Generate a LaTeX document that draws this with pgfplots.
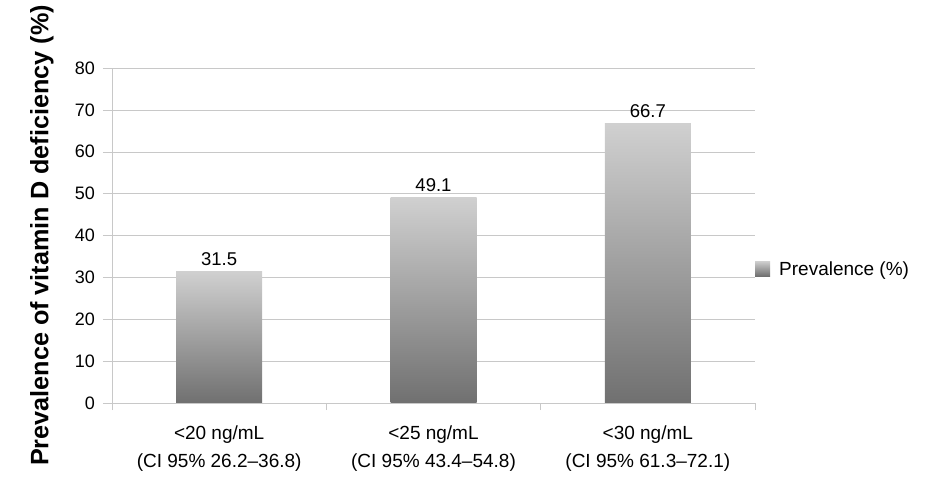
\documentclass[border=0pt]{standalone}
\usepackage{fontspec}
\setmainfont{Liberation Sans}
\usepackage{pgfplots}
\pgfplotsset{compat=1.18}

\definecolor{bartop}{RGB}{208,208,208}
\definecolor{barbot}{RGB}{112,112,112}
\definecolor{gridc}{RGB}{200,200,200}

\begin{document}
\begin{tikzpicture}
\begin{axis}[
  at={(0,0)}, anchor=south west,
  scale only axis,
  width=643bp, height=335bp,
  xmin=-0.5, xmax=2.5,
  ymin=0, ymax=80,
  ytick={0,10,...,80},
  xtick={0,1,2},
  xticklabels={{<20 ng/mL\\(CI 95\% 26.2–36.8)},
               {<25 ng/mL\\(CI 95\% 43.4–54.8)},
               {<30 ng/mL\\(CI 95\% 61.3–72.1)}},
  minor xtick={-0.5,0.5,1.5,2.5},
  axis lines*=left,
  axis line style={-, draw=gridc},
  tick align=outside,
  major tick length=9bp,
  minor tick length=7bp,
  major x tick style={draw=none},
  every tick/.style={draw=gridc},
  ymajorgrids,
  grid style={draw=gridc},
  /pgf/number format/assume math mode=true,
  yticklabel style={inner sep=0pt, xshift=-8bp, font=\fontsize{18bp}{22bp}\selectfont},
  xticklabel style={align=center, inner sep=0pt, yshift=-14bp,
                    font=\fontsize{19bp}{28bp}\selectfont},
  ylabel={\bfseries Prevalence of vitamin D deficiency (\%)},
  ylabel style={at={(axis description cs:-0.109,0.5)}, rotate=0, anchor=center,
                font=\fontsize{25.2bp}{28bp}\selectfont},
  ybar, bar width=86bp,
  nodes near coords,
  nodes near coords style={font=\fontsize{18.5bp}{20bp}\selectfont, yshift=2bp},
  legend style={draw=none, fill=none, at={(axis description cs:1.0,0.40)}, anchor=west,
                font=\fontsize{19bp}{21bp}\selectfont, inner sep=0pt, column sep=7bp},
  legend image code/.code={\fill[top color=bartop, bottom color=barbot] (3bp,-7bp) rectangle (18bp,8bp);},
]
\addplot[draw=none, bar shift=0pt, top color=bartop, bottom color=barbot] coordinates {(0,31.5)};
\addplot[draw=none, bar shift=0pt, top color=bartop, bottom color=barbot, forget plot] coordinates {(1,49.1)};
\addplot[draw=none, bar shift=0pt, top color=bartop, bottom color=barbot, forget plot] coordinates {(2,66.7)};
\legend{Prevalence (\%)}
\end{axis}
\pgfresetboundingbox
\path (-112bp,-78bp) rectangle (816bp,403bp);
\end{tikzpicture}
\end{document}
